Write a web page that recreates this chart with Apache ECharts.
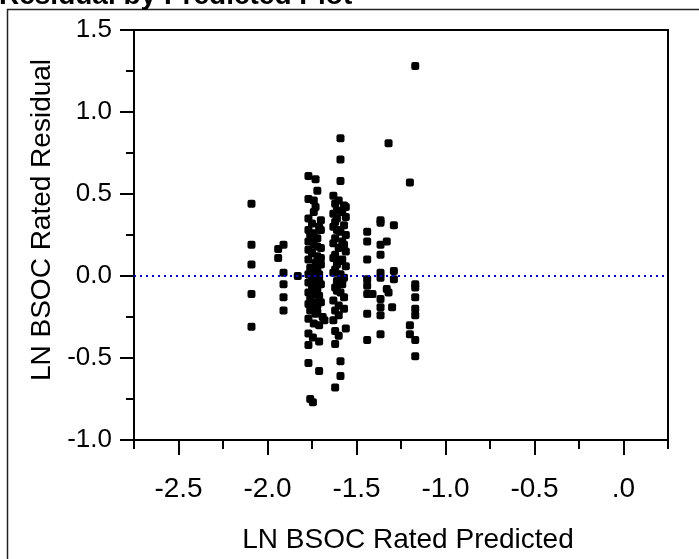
<!DOCTYPE html>
<html>
<head>
<meta charset="utf-8">
<title>Residual by Predicted Plot</title>
<script src="https://cdn.jsdelivr.net/npm/echarts@6/dist/echarts.min.js"></script>
<style>
  html, body { margin: 0; padding: 0; background: #fff; }
  #chart { width: 699px; height: 559px; }
</style>
</head>
<body>
<div id="chart"></div>
<script>
// points, column by column (left to right)
const predicted = [
  -2.09, -2.09, -2.09, -2.09, -2.09,
  -1.91, -1.94, -1.94, -1.91, -1.91, -1.91, -1.91,
  -1.83,
  -1.77, -1.73, -1.72, -1.77, -1.74, -1.73, -1.74, -1.77, -1.70, -1.75,
  -1.77, -1.70, -1.76, -1.72, -1.77, -1.74, -1.70, -1.77, -1.75, -1.72,
  -1.77, -1.73, -1.70, -1.76, -1.74, -1.77, -1.71, -1.75, -1.73, -1.77,
  -1.70, -1.75, -1.72, -1.77, -1.74, -1.71, -1.76, -1.73, -1.77, -1.72,
  -1.76, -1.73, -1.69, -1.77, -1.74, -1.71, -1.68, -1.77, -1.745, -1.71,
  -1.77, -1.77, -1.71, -1.76, -1.745,
  -1.71, -1.72, -1.70, -1.72, -1.71, -1.70, -1.72, -1.74, -1.75, -1.74,
  -1.59, -1.59, -1.59, -1.63, -1.60, -1.62, -1.57, -1.61, -1.63, -1.56,
  -1.62, -1.57, -1.63, -1.61, -1.56, -1.62, -1.63, -1.57, -1.60, -1.56,
  -1.62, -1.63, -1.58, -1.61, -1.56, -1.62, -1.63, -1.59, -1.57, -1.61,
  -1.58, -1.62, -1.59, -1.57, -1.63, -1.60, -1.57, -1.62, -1.63, -1.56,
  -1.62, -1.60, -1.62, -1.59, -1.59, -1.62,
  -1.58, -1.59, -1.58, -1.60, -1.58, -1.61, -1.60, -1.56, -1.61,
  -1.44, -1.44, -1.44, -1.44, -1.44, -1.44, -1.41, -1.44, -1.44,
  -1.365, -1.365, -1.365, -1.365, -1.365, -1.365, -1.365, -1.365, -1.365, -1.365,
  -1.33, -1.33, -1.32, -1.32,
  -1.30, -1.29, -1.29, -1.29,
  -1.20, -1.20, -1.20,
  -1.17, -1.17, -1.17, -1.17, -1.17, -1.17, -1.17, -1.17
]
const residual = [
  0.44, 0.19, 0.07, -0.11, -0.31,
  0.19, 0.165, 0.11, 0.02, -0.05, -0.13, -0.21,
  0.00,
  0.61, 0.59, 0.52, 0.47, 0.46, 0.42, 0.39, 0.35, 0.34, 0.32,
  0.28, 0.28, 0.25, 0.23, 0.21, 0.19, 0.17, 0.16, 0.14, 0.12,
  0.10, 0.08, 0.07, 0.05, 0.03, 0.01, 0.01, -0.01, -0.03, -0.04,
  -0.05, -0.07, -0.08, -0.10, -0.11, -0.12, -0.14, -0.16, -0.17, -0.18,
  -0.21, -0.23, -0.25, -0.26, -0.29, -0.30, -0.27, -0.35, -0.375, -0.40,
  -0.42, -0.53, -0.58, -0.75, -0.77,
  0.30, 0.18, 0.11, 0.03, -0.02, -0.16, -0.22, 0.26, 0.22, -0.19,
  0.84, 0.71, 0.58, 0.49, 0.46, 0.44, 0.43, 0.40, 0.38, 0.36,
  0.33, 0.31, 0.30, 0.28, 0.25, 0.23, 0.20, 0.19, 0.17, 0.15,
  0.13, 0.11, 0.10, 0.07, 0.06, 0.04, 0.02, 0.01, -0.01, -0.03,
  -0.05, -0.07, -0.10, -0.13, -0.15, -0.18, -0.20, -0.21, -0.27, -0.32,
  -0.335, -0.365, -0.415, -0.52, -0.61, -0.68,
  0.39, 0.27, 0.21, 0.09, -0.02, -0.09, -0.24, 0.42, 0.35,
  0.27, 0.21, 0.10, -0.02, -0.06, -0.11, -0.11, -0.23, -0.39,
  0.34, 0.325, 0.19, 0.13, 0.02, -0.01, -0.14, -0.19, -0.24, -0.355,
  0.21, -0.08, -0.10, 0.81,
  -0.19, 0.31, 0.03, -0.02,
  0.57, -0.30, -0.355,
  1.28, -0.05, -0.07, -0.13, -0.20, -0.24, -0.39, -0.49
]

const xMajorTicks = [-2.5, -2.0, -1.5, -1.0, -0.5, 0]
const xTickLabels = ['-2.5', '-2.0', '-1.5', '-1.0', '-0.5', '.0']
const xMinorTicks = [-2.75, -2.25, -1.75, -1.25, -0.75, -0.25, 0.25]
const yTickLabels = ['-1.0', '-0.5', '0.0', '0.5', '1.0', '1.5']

const points = predicted.map((p, i) => [p, residual[i]])

const font = "'Liberation Sans', Arial, sans-serif"

const chart = echarts.init(document.getElementById('chart'), null, { renderer: 'canvas' })
chart.setOption({
  animation: false,
  title: {
    text: 'Residual by Predicted Plot',
    left: -1,
    top: -18,
    padding: 0,
    textStyle: {
      fontFamily: font,
      fontSize: 28,
      fontWeight: 'bold',
      color: '#000'
    }
  },
  graphic: [{
    type: 'rect',
    shape: { x: 7.5, y: 9.5, width: 720, height: 600 },
    style: { fill: 'none', stroke: '#222', lineWidth: 1.5 },
    silent: true
  }],
  grid: {
    left: 134,
    right: 31,
    top: 30,
    bottom: 116,
    show: true,
    borderColor: '#000',
    borderWidth: 2,
    backgroundColor: 'transparent'
  },
  xAxis: [{
    type: 'value',
    min: -2.75,
    max: 0.25,
    name: 'LN BSOC Rated Predicted',
    nameLocation: 'middle',
    nameGap: 86,
    nameTextStyle: {
      fontFamily: font,
      fontSize: 28,
      color: '#000',
      padding: [0, 0, 0, 14]
    },
    axisLine: { onZero: false, lineStyle: { color: '#000', width: 2 } },
    axisTick: {
      customValues: xMajorTicks,
      length: 15,
      lineStyle: { color: '#000', width: 2 }
    },
    axisLabel: {
      customValues: xMajorTicks,
      margin: 35,
      fontFamily: font,
      fontSize: 28,
      color: '#000',
      formatter: v => xTickLabels[Math.round((v + 2.5) / 0.5)]
    },
    splitLine: { show: false }
  }, {
    type: 'value',
    min: -2.75,
    max: 0.25,
    position: 'bottom',
    axisLine: { show: false, onZero: false },
    axisTick: {
      customValues: xMinorTicks,
      length: 9,
      lineStyle: { color: '#000', width: 2 }
    },
    axisLabel: { show: false },
    splitLine: { show: false }
  }],
  yAxis: {
    type: 'value',
    min: -1,
    max: 1.5,
    interval: 0.5,
    name: 'LN BSOC Rated Residual',
    nameLocation: 'middle',
    nameGap: 69,
    nameTextStyle: {
      fontFamily: font,
      fontSize: 28,
      color: '#000',
      padding: [0, 0, 0, 30]
    },
    axisLine: { onZero: false, lineStyle: { color: '#000', width: 2 } },
    axisTick: { length: 14, lineStyle: { color: '#000', width: 2 } },
    minorTick: { show: true, splitNumber: 2, length: 8, lineStyle: { color: '#000', width: 2 } },
    axisLabel: {
      margin: 22,
      fontFamily: font,
      fontSize: 26,
      color: '#000',
      formatter: v => yTickLabels[Math.round((v + 1) / 0.5)]
    },
    splitLine: { show: false },
    minorSplitLine: { show: false }
  },
  series: [{
    type: 'scatter',
    xAxisIndex: 0,
    symbol: 'roundRect',
    symbolSize: 8,
    itemStyle: { color: '#000', opacity: 1 },
    emphasis: { disabled: true },
    data: points,
    markLine: {
      silent: true,
      symbol: 'none',
      label: { show: false },
      lineStyle: { color: '#0000ff', type: [2, 4], width: 2, opacity: 1 },
      data: [{ yAxis: 0 }]
    }
  }]
})
</script>
</body>
</html>
